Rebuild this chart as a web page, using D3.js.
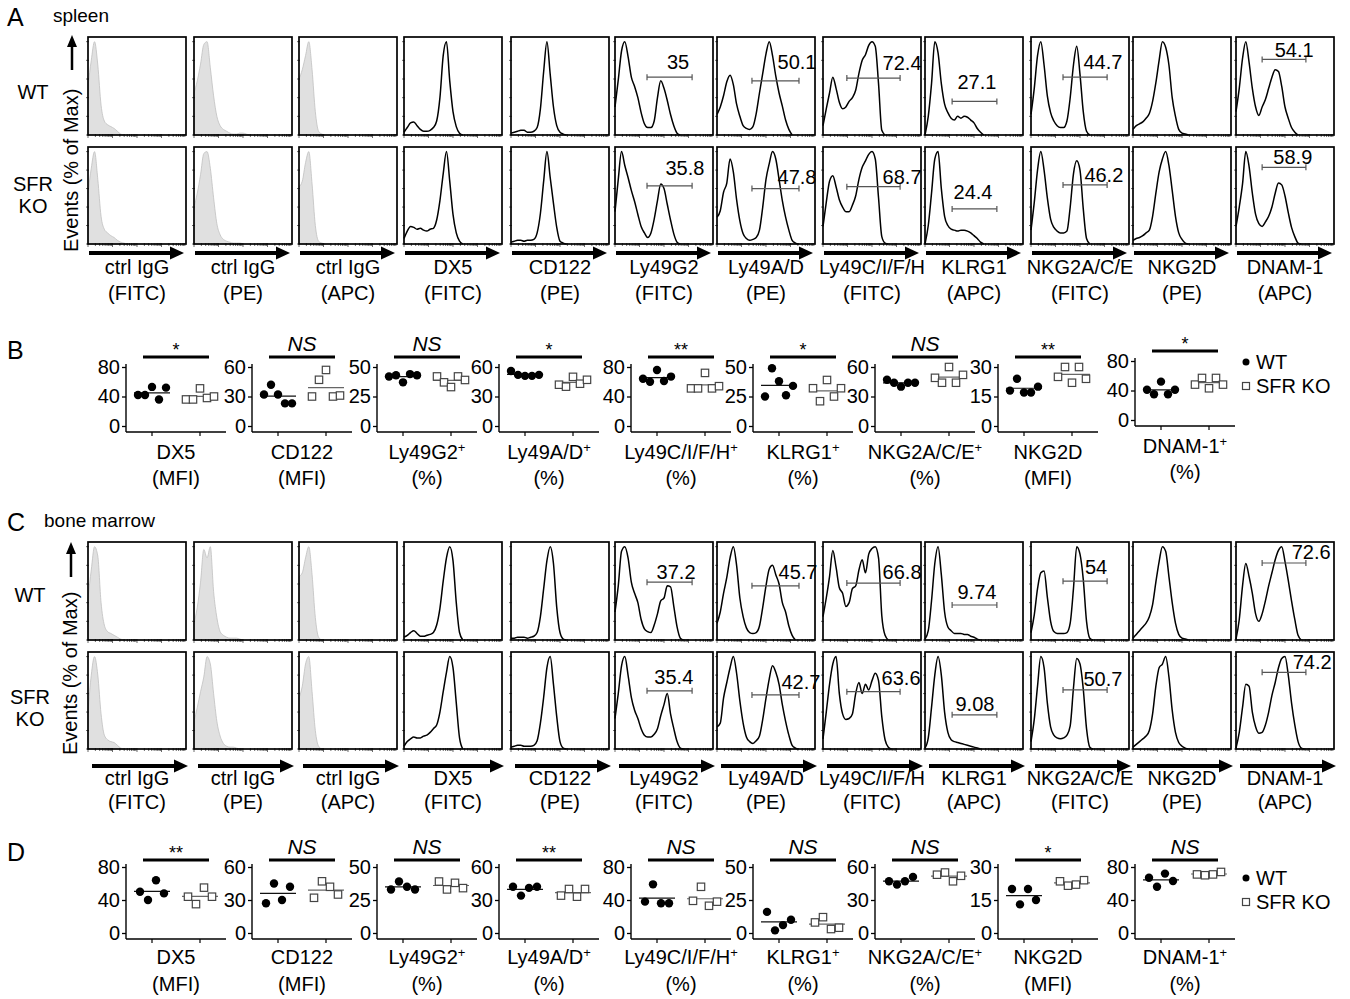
<!DOCTYPE html>
<html>
<head>
<meta charset="utf-8">
<script src="https://cdn.jsdelivr.net/npm/d3@7"></script>
<style>
  body { margin: 0; background: #fff; }
  svg text { font-family: "Liberation Sans", Arial, Helvetica, sans-serif; fill: #000; }
</style>
</head>
<body>
<svg id="fig" width="1350" height="999"></svg>
<script>
// ---- flow histogram columns (panels A and C)
const markers = ['ctrl IgG','ctrl IgG','ctrl IgG','DX5','CD122','Ly49G2','Ly49A/D','Ly49C/I/F/H','KLRG1','NKG2A/C/E','NKG2D','DNAM-1'];
const fluors  = ['FITC','PE','APC','FITC','PE','FITC','PE','FITC','APC','FITC','PE','APC'];
const isotype = [true,true,true,false,false,false,false,false,false,false,false,false];

// histograms: events (% of max) in 31 channel bins, left to right
const spleenWT = [
  [52,80,100,75,32,15,11,9,7,4,1,0],
  [45,58,76,97,100,72,42,20,10,6,4,2,1,1,2,2,1,0],
  [60,70,85,100,70,25,4,1,0],
  [3,8,13,14,10,6,4,4,5,8,15,40,85,100,58,25,9,2,0],
  [2,3,4,5,5,3,3,4,8,28,68,100,65,30,10,3,1,0],
  [30,59,90,100,84,62,52,40,24,12,8,8,15,40,58,50,37,22,10,2,0],
  [22,30,42,57,64,54,33,20,10,7,6,9,23,45,66,87,100,85,63,45,31,16,6,0],
  [10,28,45,62,50,35,28,30,36,40,48,66,80,86,96,100,95,55,5,0],
  [0,20,55,100,88,55,33,24,18,16,20,18,20,19,16,13,7,3,0],
  [22,50,85,100,75,42,24,15,10,8,8,15,40,75,95,65,25,4,0],
  [6,10,12,14,18,23,36,56,80,100,94,75,40,20,6,2,1,0],
  [25,50,82,100,78,50,30,21,30,38,50,62,70,68,52,30,18,8,3,0]
];
const spleenKO = [
  [55,82,100,70,30,16,12,9,7,4,2,1,0],
  [40,55,75,98,100,82,50,22,10,5,3,2,1,1,1,0],
  [62,68,88,100,65,20,3,1,0],
  [6,14,19,18,16,17,15,14,16,17,26,47,76,100,68,32,12,3,0],
  [2,3,4,4,3,4,4,5,12,33,68,100,72,44,18,3,1,0],
  [35,70,100,85,72,58,46,32,19,12,7,12,27,47,65,60,43,26,11,2,0],
  [29,36,56,66,92,78,48,25,11,6,4,5,7,15,40,70,87,100,92,70,47,29,15,4,1,0],
  [19,45,68,74,62,48,40,35,35,42,52,70,83,90,97,100,92,50,8,1,0],
  [0,20,55,92,100,60,30,20,16,15,14,15,15,14,12,9,6,2,0],
  [15,45,80,100,80,50,27,18,14,12,12,14,40,76,90,80,38,6,0],
  [4,6,7,9,12,15,30,55,78,92,100,85,58,30,12,5,1,0],
  [19,40,65,100,84,55,32,22,19,24,30,40,55,66,64,52,34,18,8,1,0]
];
const marrowWT = [
  [45,75,100,90,40,16,9,7,5,3,1,0],
  [18,35,62,97,88,100,52,24,9,5,3,2,2,2,1,0],
  [68,72,88,100,70,24,3,0],
  [3,5,8,10,7,4,4,5,6,8,16,34,63,88,100,85,40,8,0],
  [2,2,3,3,3,2,3,4,8,25,55,85,100,82,35,8,1,0],
  [30,58,95,100,88,62,50,40,22,12,9,8,16,28,42,45,58,57,36,14,2,0],
  [18,30,50,67,88,100,80,45,25,13,8,7,8,15,35,58,76,80,70,60,40,30,15,5,0],
  [25,45,68,96,78,56,50,36,40,55,58,75,86,72,92,98,100,88,26,5,0],
  [1,10,42,82,100,70,30,14,10,7,7,7,6,6,4,3,1,0],
  [8,27,55,72,74,46,20,9,7,7,7,8,18,55,100,92,65,20,2,0],
  [2,6,10,14,18,25,38,62,84,100,95,68,40,18,6,2,1,0],
  [1,22,58,82,68,50,28,20,28,42,58,72,86,96,100,84,64,42,22,5,0]
];
const marrowKO = [
  [40,80,100,80,38,15,10,8,7,4,1,0],
  [30,45,62,78,100,92,60,30,14,6,3,2,2,1,0],
  [55,68,92,100,62,20,3,0],
  [3,8,11,13,12,12,14,15,18,22,26,40,62,83,100,88,50,12,0],
  [2,3,4,4,3,3,3,4,9,28,56,88,100,70,35,8,1,0],
  [33,60,90,100,80,56,42,33,22,15,13,13,16,22,36,48,60,38,22,8,1,0],
  [24,28,55,72,88,100,82,52,28,13,8,6,9,14,32,55,76,90,83,70,48,30,15,4,1,0],
  [11,40,70,92,100,60,38,32,33,38,60,72,60,70,64,74,82,74,35,10,2,0],
  [1,12,45,80,100,80,40,18,10,8,7,6,5,4,3,2,1,0],
  [8,32,68,100,88,50,24,15,12,11,12,15,25,66,98,92,65,22,2,0],
  [2,5,8,11,14,20,38,68,88,92,100,78,42,18,7,3,1,0],
  [1,18,45,70,68,40,24,17,18,26,40,58,72,88,98,100,80,50,26,8,1,0]
];

// gates (columns, bin range, height in % of max) and gated percentages
const gateCol  = [5,6,7,8,9,11];
const gateFrom = [9.8,10.7,7.3,8.3,9.8,8.0];
const gateTo   = [23.6,25.1,23.6,22.0,23.3,21.4];
const spleenWTGate = [62,58,61,36,62,81];
const spleenKOGate = [63,60,62,38,64,83];
const marrowWTGate = [62,58,61,37.5,63,82.5];
const marrowKOGate = [63,58.5,62,37,64,83];
const spleenWTPct = ['35','50.1','72.4','27.1','44.7','54.1'];
const spleenKOPct = ['35.8','47.8','68.7','24.4','46.2','58.9'];
const marrowWTPct = ['37.2','45.7','66.8','9.74','54','72.6'];
const marrowKOPct = ['35.4','42.7','63.6','9.08','50.7','74.2'];

// ---- dot plots (panels B and D)
const dotNames = ['DX5','CD122','Ly49G2','Ly49A/D','Ly49C/I/F/H','KLRG1','NKG2A/C/E','NKG2D','DNAM-1'];
const dotUnits = ['MFI','MFI','%','%','%','%','%','MFI','%'];
const dotPlus  = [false,false,true,true,true,true,true,false,true];
const dotMax   = [80,60,50,60,80,50,60,30,80];
const groups   = ['WT','SFR KO'];

const spleenSig = ['*','NS','NS','*','**','*','NS','**','*'];
const spleenDotWT = [
  [42,42,53,36,52],[32,42,32,23,23],[42,43,37,44,43],[56,52,51,51,52],[64,60,76,61,67],
  [25,49,38,26,34],[47,44,40,44,44],[18,24,17,17,20],[41,35,52,35,41]
];
const spleenDotKO = [
  [36,36,51,38,40],[30,47,57,30,31],[42,37,33,42,39],[42,40,50,43,47],[51,51,72,51,54],
  [32,21,39,25,32],[49,44,60,44,52],[25,30,22,30,24],[48,57,43,57,48]
];
const marrowSig = ['**','NS','NS','**','NS','NS','NS','*','NS'];
const marrowDotWT = [
  [50,40,64,48],[27,45,30,42],[33,39,35,33],[42,34,41,42],[38,59,36,36],
  [16,2,6,10],[47,44,47,51],[20,13,20,15],[67,56,72,63]
];
const marrowDotKO = [
  [44,35,55,44],[32,47,42,35],[39,33,38,34],[34,40,33,40],[39,56,33,38],
  [8,12,3,4],[53,55,47,52],[23.5,21.5,22,24],[71,70,71,74]
];

// ---------------------------------------------------------------
const svg = d3.select('#fig');
const FONT = '"Liberation Sans", Arial, Helvetica, sans-serif';

const boxLeft = [88,194,299,404,511,615,717,823,925,1031,1133,1236];
const boxW = 98, bins = 30;

function txt(x, y, s, size, anchor) {
  return svg.append('text').attr('x', x).attr('y', y).attr('font-size', size)
    .attr('text-anchor', anchor || 'start').text(s);
}

function histPanel(p) {
  p.rows.forEach(r => {
    boxLeft.forEach((L, c) => {
      const x = d3.scaleLinear().domain([0, bins]).range([L, L + boxW]);
      const y = d3.scaleLinear().domain([0, 105]).range([r.top + r.h, r.top]);
      const vals = r.data[c];
      if (isotype[c]) {
        svg.append('path').datum(vals)
          .attr('d', d3.area().curve(d3.curveMonotoneX).x((d, i) => x(i)).y0(y(0)).y1(d => y(d)))
          .attr('fill', '#e0e0e0').attr('stroke', '#c0c0c0').attr('stroke-width', 0.8);
      } else {
        svg.append('path').datum(vals)
          .attr('d', d3.line().curve(d3.curveMonotoneX).x((d, i) => x(i)).y(d => y(d)))
          .attr('fill', 'none').attr('stroke', '#000').attr('stroke-width', 1.5)
          .attr('stroke-linejoin', 'round');
      }
      const gi = gateCol.indexOf(c);
      if (gi >= 0) {
        const gy = y(r.gate[gi]);
        const g = svg.append('g').attr('stroke', '#555').attr('stroke-width', 1.2);
        g.append('line').attr('x1', x(gateFrom[gi])).attr('x2', x(gateTo[gi])).attr('y1', gy).attr('y2', gy);
        [gateFrom[gi], gateTo[gi]].forEach(v =>
          g.append('line').attr('x1', x(v)).attr('x2', x(v)).attr('y1', gy - 3).attr('y2', gy + 3));
        const at = r.pctAt[gi];
        txt(x(at[0]), y(at[1]), r.pct[gi], 20, 'middle').attr('dy', '0.35em');
      }
      // frame ticks
      const tk = svg.append('g').attr('stroke', '#444').attr('stroke-width', 0.8);
      [0, 20, 40, 60, 80, 100].forEach(v =>
        tk.append('line').attr('x1', L - 2).attr('x2', L + 1).attr('y1', y(v)).attr('y2', y(v)));
      for (let d = 0; d < 4; d++) {
        for (let m = 1; m < 10; m++) {
          const b = (d + Math.log10(m)) * bins / 4;
          tk.append('line').attr('x1', x(b)).attr('x2', x(b))
            .attr('y1', r.top + r.h - 1).attr('y2', r.top + r.h + (m === 1 ? 3 : 2));
        }
      }
      svg.append('rect').attr('x', L).attr('y', r.top).attr('width', boxW).attr('height', r.h)
        .attr('fill', 'none').attr('stroke', '#000').attr('stroke-width', 1.7);
    });
  });
  // axis arrows + labels under each column
  boxLeft.forEach((L, c) => {
    const x0 = L + p.arrowFrom, tip = L + boxW + p.arrowTip, ay = p.arrowY;
    svg.append('line').attr('x1', x0).attr('x2', tip - 10).attr('y1', ay).attr('y2', ay)
      .attr('stroke', '#000').attr('stroke-width', 4);
    svg.append('path').attr('d', `M${tip},${ay}L${tip - 14},${ay - 6.5}L${tip - 14},${ay + 6.5}Z`).attr('fill', '#000');
    txt(L + boxW / 2, p.lab1, markers[c], 20, 'middle').attr('dy', '0.35em');
    txt(L + boxW / 2, p.lab2, '(' + fluors[c] + ')', 20, 'middle').attr('dy', '0.35em');
  });
  // y label with arrow
  svg.append('text').attr('transform', `translate(${p.yLabX},${p.yLabY}) rotate(-90)`)
    .attr('font-size', 20).text('Events (% of Max)');
  svg.append('line').attr('x1', p.yArrX).attr('x2', p.yArrX).attr('y1', p.yArrFrom).attr('y2', p.yArrTo + 10)
    .attr('stroke', '#000').attr('stroke-width', 2.5);
  svg.append('path').attr('d', `M${p.yArrX},${p.yArrTo}L${p.yArrX - 5},${p.yArrTo + 12}L${p.yArrX + 5},${p.yArrTo + 12}Z`);
  txt(p.rowX, p.wtY, 'WT', 20, 'middle').attr('dy', '0.35em');
  txt(p.rowX, p.koY, 'SFR', 20, 'middle').attr('dy', '0.35em');
  txt(p.rowX, p.koY + 22, 'KO', 20, 'middle').attr('dy', '0.35em');
  txt(7, p.letterY, p.letter, 25);
  txt(p.titleX, p.titleY, p.title, 19);
}

const plotX = [126,252,377,499,631,753,875,998,1135];
const plotW = 100;

function dotPanel(p) {
  plotX.forEach((ax, i) => {
    const sh = i === 8 ? p.lastShift : 0;
    const max = dotMax[i];
    const y = d3.scaleLinear().domain([0, max]).range([p.zero - sh, p.top - sh]);
    const x = d3.scalePoint().domain(groups).range([ax + 26, ax + 74]);
    const axY = p.axisY - sh;
    const g = svg.append('g');

    const ya = g.append('g').attr('transform', `translate(${ax},0)`)
      .call(d3.axisLeft(y).tickValues([0, max / 2, max]).tickSize(4).tickPadding(2));
    ya.select('.domain').remove();
    ya.attr('font-size', 20).attr('font-family', FONT);
    ya.selectAll('line').attr('stroke-width', 1.3);
    g.append('line').attr('x1', ax).attr('x2', ax).attr('y1', p.top - sh - 3).attr('y2', axY)
      .attr('stroke', '#000').attr('stroke-width', 1.4);
    g.append('line').attr('x1', ax).attr('x2', ax + plotW).attr('y1', axY).attr('y2', axY)
      .attr('stroke', '#000').attr('stroke-width', 1.4);
    groups.forEach(k => g.append('line').attr('x1', x(k)).attr('x2', x(k)).attr('y1', axY).attr('y2', axY + 4)
      .attr('stroke', '#000').attr('stroke-width', 1.2));

    const sets = [p.wt[i], p.ko[i]];
    sets.forEach((vals, gi) => {
      const cx = x(groups[gi]);
      const n = vals.length, step = n === 5 ? 7 : 8;
      const m = d3.mean(vals);
      g.append('line').attr('x1', cx - 18).attr('x2', cx + 18).attr('y1', y(m)).attr('y2', y(m))
        .attr('stroke', gi ? '#666' : '#111').attr('stroke-width', 1.2);
      vals.forEach((v, k) => {
        const px = cx + (k - (n - 1) / 2) * step;
        if (gi === 0) {
          g.append('circle').attr('cx', px).attr('cy', y(v)).attr('r', 4.2).attr('fill', '#000');
        } else {
          g.append('rect').attr('x', px - 3.7).attr('y', y(v) - 3.7).attr('width', 7.4).attr('height', 7.4)
            .attr('fill', '#fff').attr('stroke', '#444').attr('stroke-width', 1.2);
        }
      });
    });

    // significance bar
    const by = p.barY - sh, cxm = ax + plotW / 2;
    g.append('line').attr('x1', ax + 17).attr('x2', ax + 83).attr('y1', by).attr('y2', by)
      .attr('stroke', '#000').attr('stroke-width', 3);
    const s = p.sig[i];
    if (s === 'NS') {
      txt(cxm, by - 6, s, 21, 'middle').attr('font-style', 'italic');
    } else {
      txt(cxm, by - 1, s, 18, 'middle');
    }

    // category labels
    const t = txt(cxm, p.lab1 - sh, dotNames[i], 20, 'middle').attr('dy', '0.35em');
    if (dotPlus[i]) t.append('tspan').attr('font-size', 13).attr('dy', -7).text('+');
    txt(cxm, p.lab2 - sh, '(' + dotUnits[i] + ')', 20, 'middle').attr('dy', '0.35em');
  });

  // legend
  svg.append('circle').attr('cx', 1246).attr('cy', p.legY).attr('r', 3.5).attr('fill', '#000');
  txt(1256, p.legY, 'WT', 20).attr('dy', '0.35em');
  svg.append('rect').attr('x', 1242.5).attr('y', p.legY + 24 - 3.5).attr('width', 7).attr('height', 7)
    .attr('fill', '#fff').attr('stroke', '#444').attr('stroke-width', 1.2);
  txt(1256, p.legY + 24, 'SFR KO', 20).attr('dy', '0.35em');
  txt(7, p.letterY, p.letter, 25);
}

// ---- panel A: spleen
histPanel({
  letter: 'A', letterY: 26, title: 'spleen', titleX: 53, titleY: 22,
  rows: [
    { top: 37, h: 98, data: spleenWT, gate: spleenWTGate, pct: spleenWTPct,
      pctAt: [[19.3,78],[24.5,78],[24.2,77],[15.9,57],[22,78],[17.8,91]] },
    { top: 147, h: 97, data: spleenKO, gate: spleenKOGate, pct: spleenKOPct,
      pctAt: [[21.4,82],[24.5,73],[24.2,73],[14.7,56],[22.3,75],[17.4,94]] }
  ],
  arrowY: 253, arrowFrom: 1, arrowTip: -2, lab1: 267, lab2: 293,
  yLabX: 78, yLabY: 252, yArrX: 72, yArrFrom: 70, yArrTo: 35,
  rowX: 33, wtY: 92, koY: 184
});

// ---- panel B
dotPanel({
  letter: 'B', letterY: 359, top: 367, zero: 426, axisY: 432, lastShift: 6,
  barY: 357, lab1: 452, lab2: 478, legY: 362,
  sig: spleenSig, wt: spleenDotWT, ko: spleenDotKO
});

// ---- panel C: bone marrow
histPanel({
  letter: 'C', letterY: 531, title: 'bone marrow', titleX: 44, titleY: 527,
  rows: [
    { top: 542, h: 98, data: marrowWT, gate: marrowWTGate, pct: marrowWTPct,
      pctAt: [[18.7,73],[24.8,73],[24.2,73],[15.9,51],[19.9,78],[23,94]] },
    { top: 652, h: 97, data: marrowKO, gate: marrowKOGate, pct: marrowKOPct,
      pctAt: [[18,78],[25.7,72.5],[23.9,77],[15.3,49],[22,76],[23.3,94]] }
  ],
  arrowY: 766, arrowFrom: 4, arrowTip: 2, lab1: 778, lab2: 802,
  yLabX: 77, yLabY: 755, yArrX: 71, yArrFrom: 577, yArrTo: 542,
  rowX: 30, wtY: 595, koY: 697
});

// ---- panel D
dotPanel({
  letter: 'D', letterY: 861, top: 867, zero: 933, axisY: 939, lastShift: 0,
  barY: 860, lab1: 957, lab2: 984, legY: 878,
  sig: marrowSig, wt: marrowDotWT, ko: marrowDotKO
});
</script>
</body>
</html>
